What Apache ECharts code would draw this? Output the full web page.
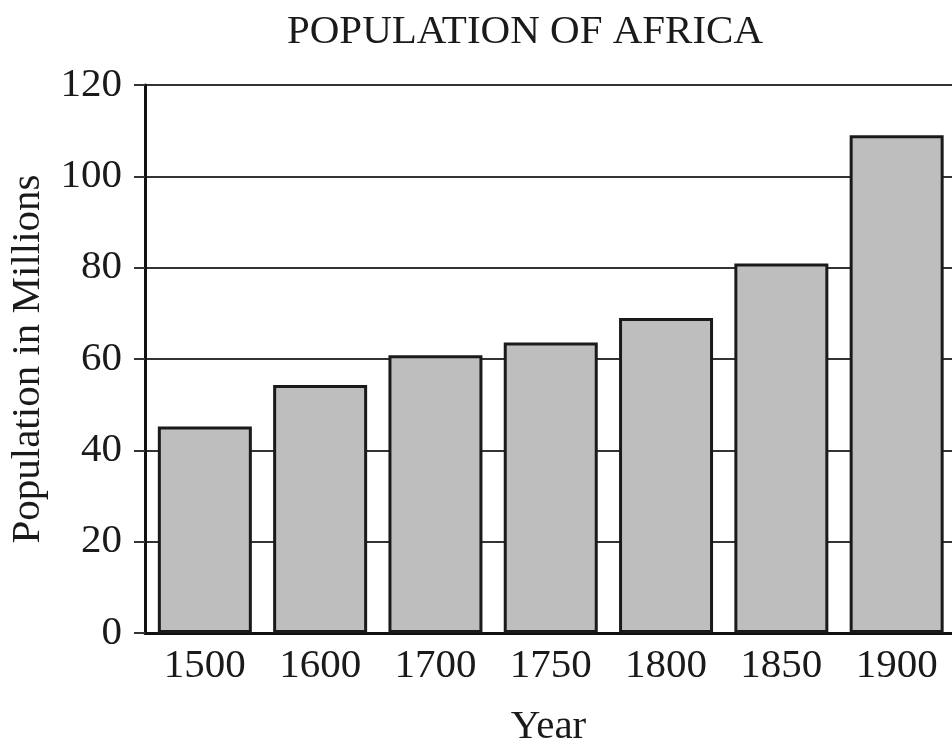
<!DOCTYPE html>
<html>
<head>
<meta charset="utf-8">
<script src="https://cdn.jsdelivr.net/npm/echarts@6/dist/echarts.min.js"></script>
<style>
html,body{margin:0;padding:0;background:#fff;}
#chart{width:952px;height:753px;}
</style>
</head>
<body>
<div id="chart"></div>
<script>
var years = ['1500', '1600', '1700', '1750', '1800', '1850', '1900'];
var population = [45.2, 54.3, 60.8, 63.6, 69.0, 80.9, 109.0];
var yTicks = [0, 20, 40, 60, 80, 100, 120];

var FONT = '"Liberation Serif", "Times New Roman", serif';
var chart = echarts.init(document.getElementById('chart'), null, {renderer: 'canvas'});
var positions = years.map(function (y, i) { return i; });

chart.setOption({
  backgroundColor: '#ffffff',
  animation: false,
  title: {
    text: 'POPULATION OF AFRICA',
    left: 520,
    top: 7,
    textAlign: 'center',
    textStyle: {fontFamily: FONT, fontSize: 41, fontWeight: 'normal', color: '#1a1a1a'}
  },
  grid: {left: 141, right: 0, top: 85, bottom: 117, containLabel: false},
  xAxis: {
    type: 'value',
    min: -0.519,
    max: 6.48,
    name: 'Year',
    nameLocation: 'middle',
    nameGap: 74,
    nameTextStyle: {fontFamily: FONT, fontSize: 41, color: '#1a1a1a'},
    axisLine: {show: true, onZero: false, lineStyle: {color: '#111', width: 3}},
    axisTick: {show: false},
    splitLine: {show: false},
    axisLabel: {
      customValues: positions,
      formatter: function (v) { return years[Math.round(v)]; },
      margin: 13,
      fontFamily: FONT, fontSize: 41, color: '#1a1a1a'
    }
  },
  yAxis: {
    type: 'value',
    min: 0,
    max: 120,
    interval: 20,
    name: 'Population in Millions',
    nameLocation: 'middle',
    nameGap: 96,
    nameTextStyle: {fontFamily: FONT, fontSize: 41, color: '#1a1a1a'},
    axisLine: {show: true, onZero: false, lineStyle: {color: '#111', width: 3}},
    axisTick: {show: true, length: 11, lineStyle: {color: '#333', width: 2}},
    splitLine: {show: true, lineStyle: {color: '#333', width: 2}},
    axisLabel: {
      margin: 23,
      fontFamily: FONT, fontSize: 41, color: '#1a1a1a',
      formatter: function (v) { return yTicks.indexOf(v) >= 0 ? String(v) : ''; }
    }
  },
  series: [{
    type: 'bar',
    data: population.map(function (v, i) { return [i, v]; }),
    barWidth: 94,
    itemStyle: {color: '#bebebe', borderColor: '#1a1a1a', borderWidth: 3}
  }]
});
</script>
</body>
</html>
